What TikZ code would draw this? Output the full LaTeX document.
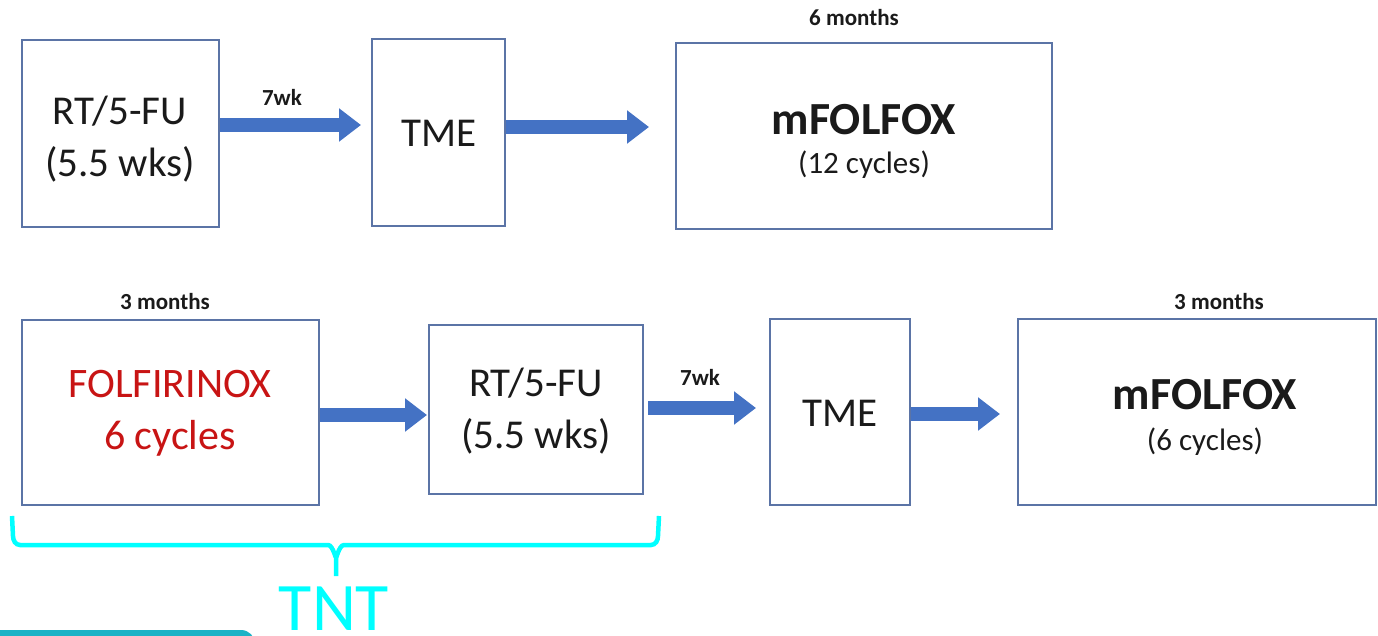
\documentclass[tikz,border=0pt]{standalone}
\usepackage{fontspec}
\setmainfont{Carlito}
\usetikzlibrary{arrows.meta}
\definecolor{boxline}{HTML}{5B74A6}
\definecolor{arrowblue}{HTML}{4472C4}
\definecolor{txt}{HTML}{1A1A1A}
\definecolor{redtxt}{HTML}{C81414}
\definecolor{tntcyan}{HTML}{00FFFF}
\definecolor{tealbar}{HTML}{1BB3C6}
\begin{document}
\begin{tikzpicture}[x=1pt,y=-1pt,
  box/.style={draw=boxline,line width=2pt,fill=white,inner sep=0pt},
  big/.style={font=\fontsize{41}{52}\selectfont,text=txt,align=center},
  bold/.style={font=\bfseries\fontsize{46}{50}\selectfont,text=txt},
  sub/.style={font=\fontsize{31}{36}\selectfont,text=txt},
  small/.style={font=\bfseries\fontsize{23}{26}\selectfont,text=txt},
  redt/.style={font=\fontsize{42}{52}\selectfont,text=redtxt,align=center},
  bigarr/.style={line width=14pt,arrowblue,-{Triangle[width=32pt,length=22pt]}}]
\useasboundingbox (0,0) rectangle (1378,636);
\begin{scope}
\clip (0,0) rectangle (1378,636);
\fill[tealbar,rounded corners=14pt] (-20,630) rectangle (255,670);
\end{scope}
% top row
\node[box,minimum width=197pt,minimum height=187pt] (b1) at (120.5,133.5) {};
\node[box,minimum width=133pt,minimum height=187pt] (b2) at (438.5,132.5) {};
\node[box,minimum width=376pt,minimum height=186pt] (b3) at (864,136) {};
\node[big] (t1) at (120,139) {RT/5-FU\\(5.5 wks)};
\node[big] (t2) at (439,133) {TME};
\node[bold] (t3a) at (864,120) {mFOLFOX};
\node[sub] (t3b) at (864,165) {(12 cycles)};
\node[small] (m1) at (854,18) {6 months};
\node[small] (w1) at (282,97) {7wk};
\draw[bigarr,shorten >=10pt] ([yshift=8.5pt]b1.east) -- ([yshift=8.5pt]b1.east -| b2.west);
\draw[bigarr,shorten >=26pt] ([yshift=5.5pt]b2.east) -- ([yshift=5.5pt]b2.east -| b3.west);
% bottom row
\node[box,minimum width=297pt,minimum height=185pt] (b4) at (170.5,412.5) {};
\node[box,minimum width=214pt,minimum height=169pt] (b5) at (536,409.5) {};
\node[box,minimum width=140pt,minimum height=186pt] (b6) at (840,412) {};
\node[box,minimum width=358pt,minimum height=186pt] (b7) at (1197,412) {};
\node[redt] (t4) at (170,413) {FOLFIRINOX\\6 cycles};
\node[big] (t5) at (536,411) {RT/5-FU\\(5.5 wks)};
\node[big] (t6) at (840,413) {TME};
\node[bold] (t7a) at (1205,395) {mFOLFOX};
\node[sub] (t7b) at (1205,442) {(6 cycles)};
\node[small] (m2) at (165,302) {3 months};
\node[small] (m3) at (1219,302) {3 months};
\node[small] (w2) at (700,377) {7wk};
\draw[bigarr,shorten >=1pt] ([yshift=-2.5pt]b4.east) -- ([yshift=-2.5pt]b4.east -| b5.west);
\draw[bigarr,shorten <=4pt,shorten >=13pt] ([yshift=1.5pt]b5.east) -- ([yshift=1.5pt]b5.east -| b6.west);
\draw[bigarr,shorten >=17pt] ([yshift=-2pt]b6.east) -- ([yshift=-2pt]b6.east -| b7.west);
% brace
\coordinate (bl) at (12,516);
\coordinate (br) at (659,516);
\coordinate (btip) at (336,576);
\draw[tntcyan,line width=4.5pt]
  (bl) -- (13,536) to[out=-90,in=180] (20,545) -- (328,545)
  to[out=0,in=-90] (336,556) -- (btip);
\draw[tntcyan,line width=4.5pt]
  (br) -- (658,536) to[out=-90,in=0] (651,545) -- (344,545)
  to[out=180,in=-90] (336,556);
\node[font=\fontsize{68}{68}\selectfont,text=tntcyan,inner sep=0pt,anchor=base] (tnt) at (334,630) {TNT};
\end{tikzpicture}
\end{document}
